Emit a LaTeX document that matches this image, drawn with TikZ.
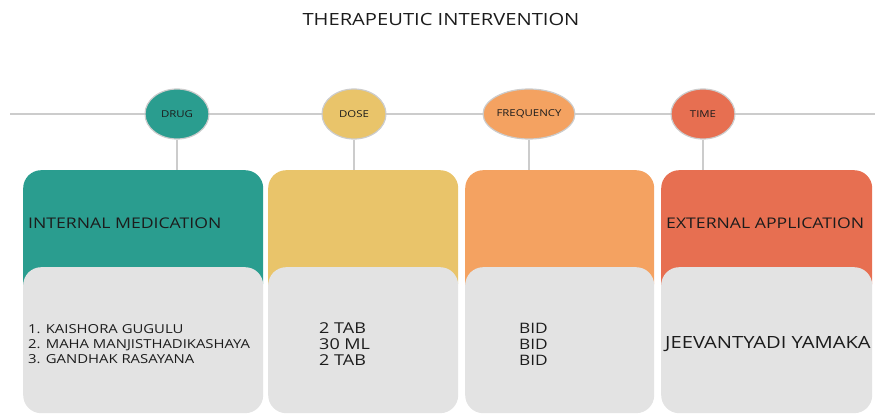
\documentclass[tikz,border=0pt]{standalone}
\usepackage{fontspec}
\setmainfont{Open Sans}[FakeStretch=1.2]
\usetikzlibrary{shapes.geometric}
\definecolor{tealc}{HTML}{2A9D8F}
\definecolor{sandc}{HTML}{E9C46A}
\definecolor{orangec}{HTML}{F4A261}
\definecolor{redc}{HTML}{E76F51}
\definecolor{panelc}{HTML}{E3E3E3}
\definecolor{linec}{HTML}{CCCCCC}
\definecolor{inkc}{HTML}{1C1C1C}

\begin{document}
\begin{tikzpicture}[x=1pt,y=-1pt,
  bubble/.style={ellipse,draw=linec,line width=1.2pt,minimum width=64pt,minimum height=50pt,inner sep=0pt,font=\fontsize{9.5}{10}\selectfont,text=inkc},
  head/.style={rectangle,rounded corners=18pt,anchor=north west,inner sep=0pt,minimum height=130pt},
  panel/.style={rectangle,fill=panelc,rounded corners=18pt,anchor=north west,inner sep=0pt,minimum height=146pt},
  link/.style={linec,line width=1.5pt},
  txt/.style={text=inkc,inner sep=0pt}]
\useasboundingbox (0,0) rectangle (875,414);
\node[txt,font=\fontsize{16.8}{18}\selectfont] (title) at (441,19) {THERAPEUTIC INTERVENTION};
% time line
\coordinate (lstart) at (10,114);
\coordinate (lend) at (875,114);
\draw[link] (lstart) -- (lend);
% header boxes
\node[head,fill=tealc,minimum width=240pt] (drughead) at (23,170) {};
\node[head,fill=sandc,minimum width=190pt] (dosehead) at (268,170) {};
\node[head,fill=orangec,minimum width=189pt] (freqhead) at (465,170) {};
\node[head,fill=redc,minimum width=211pt] (timehead) at (661,170) {};
% lower panels
\node[panel,minimum width=240pt] (drugpanel) at (23,267) {};
\node[panel,minimum width=190pt] (dosepanel) at (268,267) {};
\node[panel,minimum width=189pt] (freqpanel) at (465,267) {};
\node[panel,minimum width=211pt] (timepanel) at (661,267) {};
% bubbles
\node[bubble,fill=tealc] (drug) at (177,114) {DRUG};
\node[bubble,fill=sandc] (dose) at (354,114) {DOSE};
\node[bubble,fill=orangec,minimum width=74pt] (freq) at (529,114) {FREQUENCY};
\node[bubble,fill=redc] (time) at (703,114) {TIME};
\foreach \b/\h in {drug/drughead,dose/dosehead,freq/freqhead,time/timehead}
  \draw[link] (\b.south) -- (\b.south |- \h.north);
% texts
\node[txt,anchor=base west,font=\fontsize{14.7}{16}\selectfont] (intlabel) at (28,229) {INTERNAL MEDICATION};
\node[txt,anchor=base west,font=\fontsize{14.7}{16}\selectfont] (extlabel) at (666,229) {EXTERNAL APPLICATION};
\node[txt,anchor=west,align=left,font=\fontsize{12.4}{15}\selectfont] (druglist) at (28,344)
  {1. KAISHORA GUGULU\\2. MAHA MANJISTHADIKASHAYA\\3. GANDHAK RASAYANA};
\node[txt,anchor=west,align=left,font=\fontsize{15}{16}\selectfont] (doselist) at (319,344)
  {2 TAB\\30 ML\\2 TAB};
\node[txt,anchor=west,align=left,font=\fontsize{14.4}{16}\selectfont] (freqlist) at (519,344)
  {BID\\BID\\BID};
\node[txt,anchor=west,font=\fontsize{16.8}{18}\selectfont] (timelist) at (665,344) {JEEVANTYADI YAMAKA};
\end{tikzpicture}
\end{document}
